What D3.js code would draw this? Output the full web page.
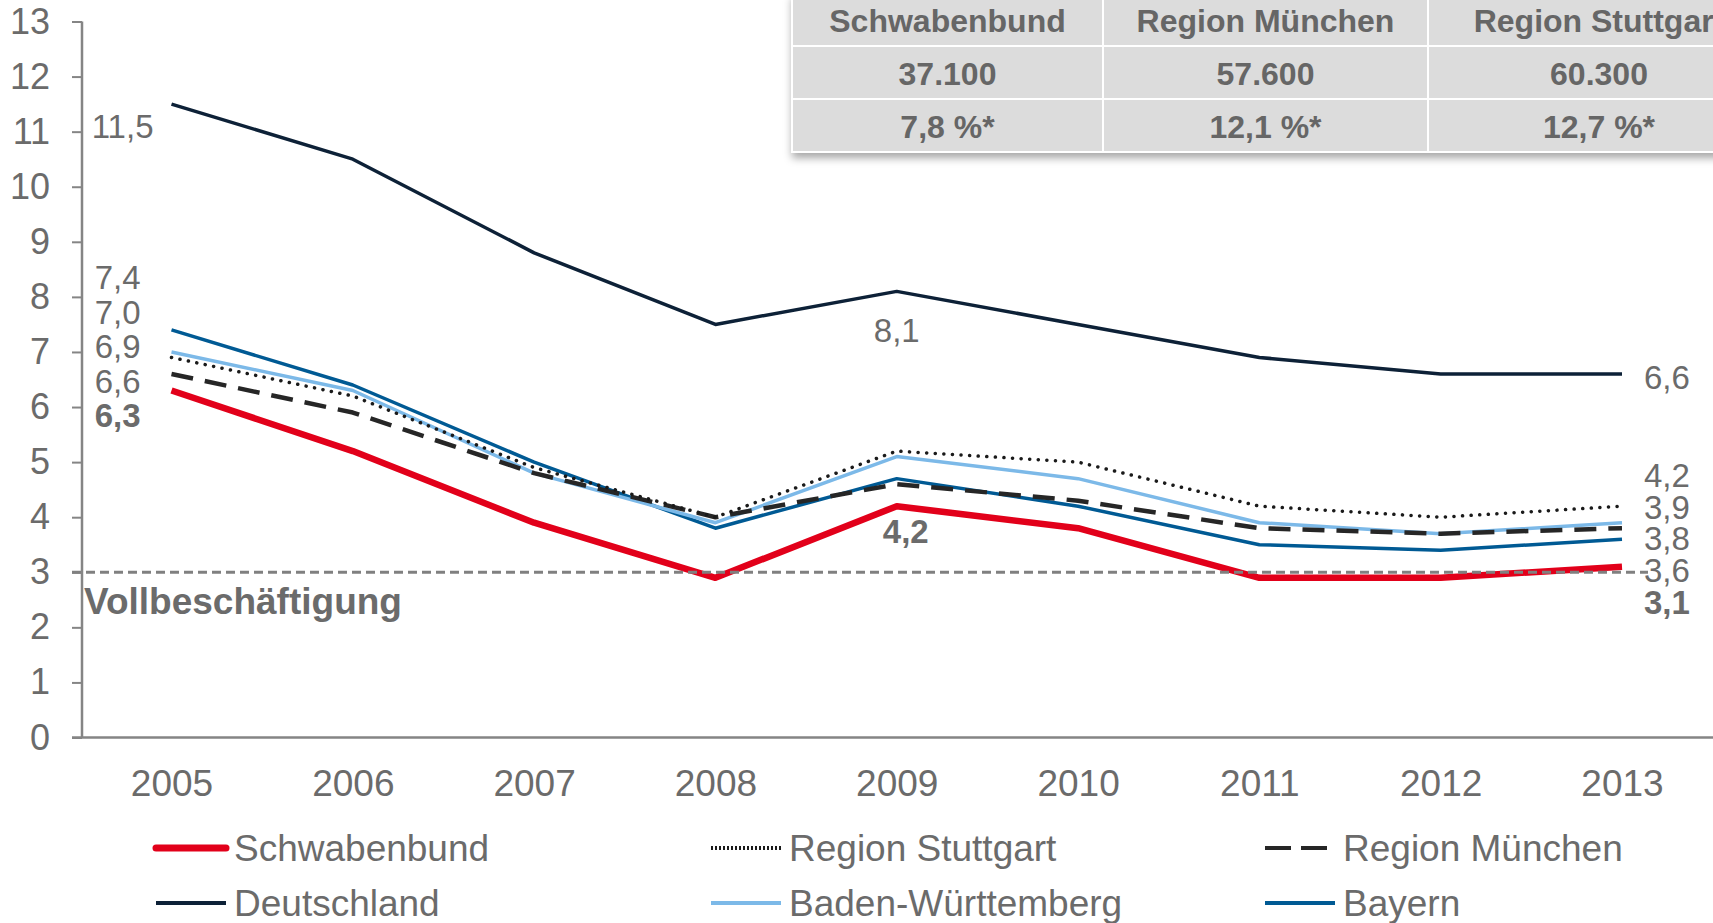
<!DOCTYPE html>
<html>
<head>
<meta charset="utf-8">
<script src="https://cdn.jsdelivr.net/npm/d3@7"></script>
<style>
  body { margin: 0; background: #fff; }
  svg { display: block; font-family: "Liberation Sans", Arial, sans-serif; }
</style>
</head>
<body>
<svg width="1713" height="923"></svg>
<script>
// Data
let years = [2005, 2006, 2007, 2008, 2009, 2010, 2011, 2012, 2013];
let schwabenbund = [6.3, 5.2, 3.9, 2.9, 4.2, 3.8, 2.9, 2.9, 3.1];
let deutschland = [11.5, 10.5, 8.8, 7.5, 8.1, 7.5, 6.9, 6.6, 6.6];
let stuttgart = [6.9, 6.2, 4.9, 4.0, 5.2, 5.0, 4.2, 4.0, 4.2];
let muenchen = [6.6, 5.9, 4.8, 4.0, 4.6, 4.3, 3.8, 3.7, 3.8];
let badenWuerttemberg = [7.0, 6.3, 4.8, 3.9, 5.1, 4.7, 3.9, 3.7, 3.9];
let bayern = [7.4, 6.4, 5.0, 3.8, 4.7, 4.2, 3.5, 3.4, 3.6];
let yTicks = d3.range(0, 14);
let fullEmployment = 3;

// Table above the chart
let tableHeaders = ["Schwabenbund", "Region München", "Region Stuttgart"];
let tableCounts = ["37.100", "57.600", "60.300"];
let tableShares = ["7,8 %*", "12,1 %*", "12,7 %*"];

// Labels at the ends of the lines
let leftLabels = ["7,4", "7,0", "6,9", "6,6", "6,3"];
let rightLabels = ["4,2", "3,9", "3,8", "3,6", "3,1"];

let svg = d3.select("svg");
let textColor = "#6b6b6b";
let axisColor = "#858585";

let x = d3.scalePoint().domain(years).range([171.5, 1622]);
let y = d3.scaleLinear().domain([0, 13]).range([737.5, 21.5]);

// Series styles
let series = [
    {name: "Deutschland", values: deutschland, color: "#0d2137", width: 3.5, dash: null},
    {name: "Bayern", values: bayern, color: "#005a94", width: 3.5, dash: null},
    {name: "Baden-Württemberg", values: badenWuerttemberg, color: "#7cb9e8", width: 3.5, dash: null},
    {name: "Region München", values: muenchen, color: "#262626", width: 4.5, dash: "22,12"},
    {name: "Region Stuttgart", values: stuttgart, color: "#1a1a1a", width: 3.5, dash: "0.1,8.5", cap: "round"},
    {name: "Schwabenbund", values: schwabenbund, color: "#e2001a", width: 6.5, dash: null}
];
let byName = {};
series.forEach(function(s) { byName[s.name] = s; });

// Shadow for the table
let defs = svg.append("defs");
defs.append("filter")
    .attr("id", "shadow")
    .attr("x", "-5%").attr("y", "-20%")
    .attr("width", "110%").attr("height", "150%")
    .append("feDropShadow")
    .attr("dx", 0).attr("dy", 6)
    .attr("stdDeviation", 4)
    .attr("flood-color", "#000")
    .attr("flood-opacity", 0.35);

// Y axis
let yAxis = svg.append("g")
    .attr("transform", "translate(82,0)")
    .call(d3.axisLeft(y).tickValues(yTicks).tickSize(10).tickPadding(22).tickFormat(d3.format("d")));
yAxis.select(".domain").remove();
yAxis.selectAll(".tick line").attr("stroke", axisColor).attr("stroke-width", 2);
yAxis.selectAll(".tick text")
    .attr("fill", textColor)
    .style("font-size", "36px")
    .style("font-family", "Liberation Sans, Arial, sans-serif");
svg.append("line")
    .attr("x1", 82).attr("x2", 82)
    .attr("y1", y(13)).attr("y2", y(0))
    .attr("stroke", axisColor).attr("stroke-width", 2.5);

// X axis
let xAxis = svg.append("g")
    .attr("transform", "translate(0," + y(0) + ")")
    .call(d3.axisBottom(x).tickSize(0).tickPadding(32));
xAxis.select(".domain").remove();
xAxis.selectAll(".tick text")
    .attr("fill", textColor)
    .style("font-size", "37px")
    .style("font-family", "Liberation Sans, Arial, sans-serif");
svg.append("line")
    .attr("x1", 72).attr("x2", 1713)
    .attr("y1", y(0)).attr("y2", y(0))
    .attr("stroke", axisColor).attr("stroke-width", 2.5);

// Lines
let line = d3.line()
    .x(function(d, i) { return x(years[i]); })
    .y(function(d) { return y(d); });

svg.selectAll("path.series")
    .data(series)
    .enter().append("path")
    .attr("class", "series")
    .attr("fill", "none")
    .attr("stroke", function(d) { return d.color; })
    .attr("stroke-width", function(d) { return d.width; })
    .attr("stroke-dasharray", function(d) { return d.dash; })
    .attr("stroke-linecap", function(d) { return d.cap || "butt"; })
    .attr("stroke-linejoin", "round")
    .attr("d", function(d) { return line(d.values); });

// Full employment line
svg.append("line")
    .attr("x1", 72).attr("x2", 1648)
    .attr("y1", y(fullEmployment)).attr("y2", y(fullEmployment))
    .attr("stroke", "#808080")
    .attr("stroke-width", 3)
    .attr("stroke-dasharray", "9,5");

svg.append("text")
    .attr("x", 84).attr("y", y(fullEmployment) + 42)
    .attr("fill", textColor)
    .style("font-size", "37px")
    .style("font-weight", "bold")
    .text("Vollbeschäftigung");

// Value labels
function label(txt, px, py, anchor, bold) {
    svg.append("text")
        .attr("x", px).attr("y", py)
        .attr("dy", "0.35em")
        .attr("text-anchor", anchor)
        .attr("fill", textColor)
        .style("font-size", "33px")
        .style("font-weight", bold ? "bold" : "normal")
        .text(txt);
}

label("11,5", x(2005) - 18, y(deutschland[0]) + 22, "end", false);
leftLabels.forEach(function(t, i) {
    label(t, x(2005) - 31, y(bayern[0]) - 52 + i * 34.5, "end", i === leftLabels.length - 1);
});
label("8,1", x(2009), y(deutschland[4]) + 39, "middle", false);
label("4,2", x(2009) + 9, y(schwabenbund[4]) + 25, "middle", true);
label("6,6", x(2013) + 22, y(deutschland[8]) + 3, "start", false);
rightLabels.forEach(function(t, i) {
    label(t, x(2013) + 22, y(stuttgart[8]) - 31 + i * 31.8, "start", i === rightLabels.length - 1);
});

// Table
let colX = [792, 1103, 1428, 1770];
let rowY = [-8, 46, 99, 152];
let rows = [tableHeaders, tableCounts, tableShares];
let table = svg.append("g");
table.append("rect")
    .attr("x", colX[0]).attr("y", rowY[0])
    .attr("width", colX[3] - colX[0]).attr("height", rowY[3] - rowY[0])
    .attr("fill", "#dcdcdc")
    .attr("filter", "url(#shadow)");
rows.forEach(function(r, ri) {
    r.forEach(function(t, ci) {
        table.append("rect")
            .attr("x", colX[ci]).attr("y", rowY[ri])
            .attr("width", colX[ci + 1] - colX[ci]).attr("height", rowY[ri + 1] - rowY[ri])
            .attr("fill", "#dcdcdc")
            .attr("stroke", "#fff").attr("stroke-width", 2);
        table.append("text")
            .attr("x", (colX[ci] + colX[ci + 1]) / 2)
            .attr("y", rowY[ri + 1] - 14)
            .attr("text-anchor", "middle")
            .attr("fill", "#666")
            .style("font-size", "32px")
            .style("font-weight", "bold")
            .text(t);
    });
});

// Legend
let legendOrder = ["Schwabenbund", "Region Stuttgart", "Region München",
                   "Deutschland", "Baden-Württemberg", "Bayern"];
let legendCols = [156, 711, 1265];
let legendRows = [848, 903];
let legend = svg.selectAll("g.legend")
    .data(legendOrder)
    .enter().append("g")
    .attr("class", "legend")
    .attr("transform", function(d, i) {
        return "translate(" + legendCols[i % 3] + "," + legendRows[Math.floor(i / 3)] + ")";
    });
legend.append("line")
    .attr("x1", 0).attr("x2", 70)
    .attr("stroke", function(d) { return byName[d].color; })
    .attr("stroke-width", function(d) { return d === "Schwabenbund" ? 7 : 4; })
    .attr("stroke-dasharray", function(d) {
        if (d === "Region München") return "26,10";
        if (d === "Region Stuttgart") return "2,2";
        return null;
    })
    .attr("stroke-linecap", function(d) { return d === "Schwabenbund" ? "round" : "butt"; });
legend.append("text")
    .attr("x", 78)
    .attr("y", 0)
    .attr("dy", "0.36em")
    .attr("fill", textColor)
    .style("font-size", "37px")
    .text(function(d) { return d; });
</script>
</body>
</html>
